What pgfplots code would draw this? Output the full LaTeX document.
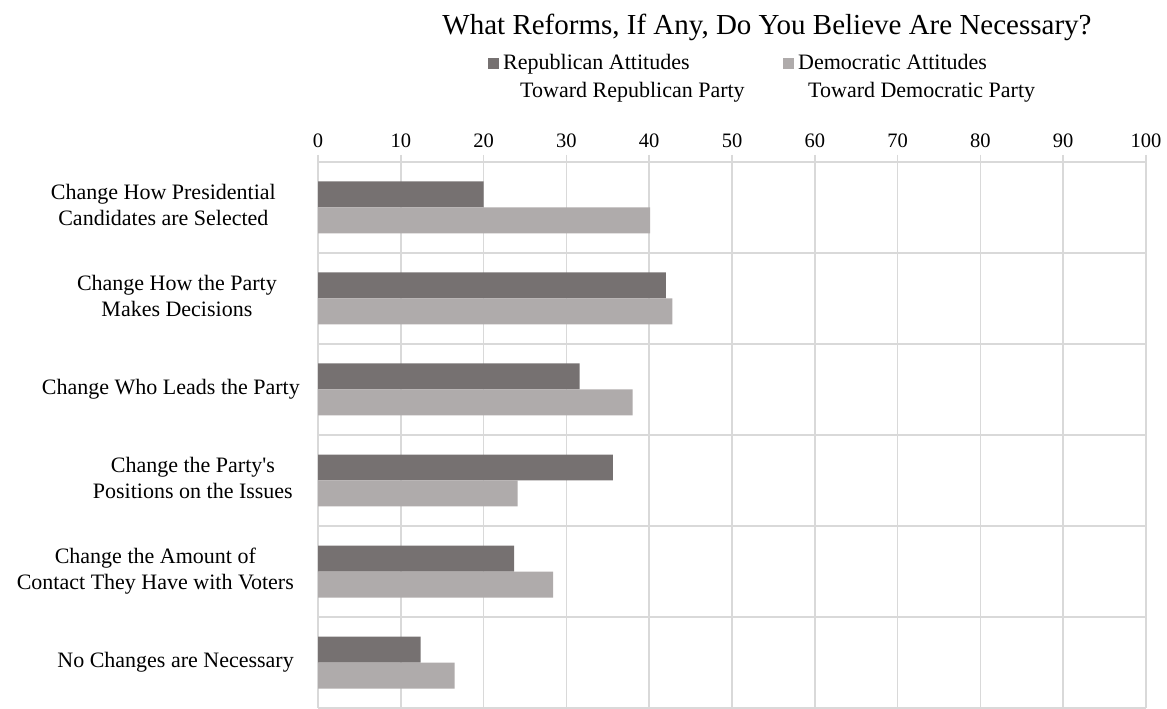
\documentclass[border=0pt]{standalone}
\usepackage{fontspec}
\setmainfont{Liberation Serif}
\usepackage{pgfplots}
\pgfplotsset{compat=1.18}

\definecolor{repgray}{HTML}{767171}
\definecolor{demgray}{HTML}{AFABAB}
\definecolor{gridgray}{HTML}{D9D9D9}

\newcommand\titlefont{\fontsize{29bp}{34bp}\selectfont}
\newcommand\catfont{\fontsize{22bp}{26bp}\selectfont}
\newcommand\tickfont{\fontsize{20.5bp}{24bp}\selectfont}
% category label: centred lines, block pushed left by #1
\newcommand\cat[2][0]{\begin{tabular}{@{}c@{}}#2\end{tabular}\hspace*{#1bp}}

\begin{document}
\begin{tikzpicture}[x=1bp,y=1bp]
\useasboundingbox (0,0) rectangle (1167,709);

\begin{axis}[
  at={(318bp,1bp)}, anchor=south west,
  scale only axis, width=828bp, height=546bp,
  xmin=0, xmax=100, ymin=-0.5, ymax=5.5, y dir=reverse,
  xbar, bar width=0.2857,
  axis line style={draw=none},
  xtick={0,10,...,100},
  xtick pos=right, xticklabel pos=right,
  tick align=outside,
  major tick length=7bp,
  x tick style={gridgray, line width=1.5bp},
  xticklabel style={font=\tickfont, yshift=4bp},
  /pgf/number format/assume math mode=true,
  xmajorgrids,
  major grid style={gridgray, line width=1.5bp},
  ytick={0,...,5},
  y tick style={draw=none},
  minor ytick={-0.5,0.5,1.5,2.5,3.5,4.5,5.5},
  yminorgrids,
  minor grid style={gridgray, line width=1.5bp},
  minor y tick style={draw=none},
  yticklabel style={font=\catfont, inner sep=0pt, xshift=-11bp},
  yticklabels={
    {\cat[24]{Change How Presidential\\Candidates are Selected}},
    {\cat[23]{Change How the Party\\Makes Decisions}},
    {\cat[0]{Change Who Leads the Party}},
    {\cat[7]{Change the Party\textquotesingle s\\Positions on the Issues}},
    {\cat[6]{Change the Amount of\\Contact They Have with Voters}},
    {\cat[6]{No Changes are Necessary}}
  },
  clip=false,
]
\addplot[fill=repgray, draw=none, bar shift=-0.142857] coordinates {
  (20.0,0) (42.0,1) (31.6,2) (35.6,3) (23.7,4) (12.4,5)
};
\addplot[fill=demgray, draw=none, bar shift=0.142857] coordinates {
  (40.1,0) (42.8,1) (38.0,2) (24.1,3) (28.4,4) (16.5,5)
};
\end{axis}

% title
\node[anchor=base, inner sep=0pt, font=\titlefont] at (767,674)
  {What Reforms, If Any, Do You Believe Are Necessary?};

% legend
\fill[repgray] (488,640) rectangle ++(11,11);
\node[anchor=base west, inner sep=0pt, font=\catfont] at (503,639) {Republican Attitudes};
\node[anchor=base west, inner sep=0pt, font=\catfont] at (520,611) {Toward Republican Party};
\fill[demgray] (783,640) rectangle ++(11,11);
\node[anchor=base west, inner sep=0pt, font=\catfont] at (798,639) {Democratic Attitudes};
\node[anchor=base west, inner sep=0pt, font=\catfont] at (808,611) {Toward Democratic Party};
\end{tikzpicture}
\end{document}
